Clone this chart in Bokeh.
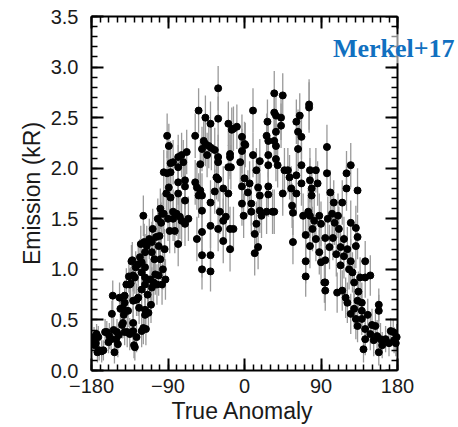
from bokeh.plotting import figure
from bokeh.models import (FixedTicker, LinearAxis, PrintfTickFormatter, ColumnDataSource,
                          Label, Range1d, Title)
from bokeh.embed import file_html
from bokeh.resources import INLINE
import numpy as np

# True anomaly (deg), emission (kR), 1-sigma error (kR)
anomaly = [
    -178, -177, -176, -175, -174, -173, -172, -171, -168, -166,
    -164, -162, -160, -159, -157, -156, -155, -154, -153, -151,
    -150, -149, -148, -147, -146, -144, -143, -143, -142, -141,
    -141, -141, -139, -138, -137, -136, -135, -135, -134, -133,
    -132, -131, -131, -131, -131, -130, -129, -129, -128, -127,
    -127, -125, -125, -124, -123, -122, -121, -121, -121, -121,
    -119, -119, -118, -117, -117, -117, -117, -117, -117, -116,
    -115, -114, -113, -112, -111, -110, -109, -109, -109, -108,
    -107, -106, -105, -104, -103, -102, -101, -101, -100, -99,
    -99, -98, -97, -97, -96, -95, -95, -94, -93, -92,
    -91, -91, -90, -89, -89, -88, -87, -87, -87, -84,
    -84, -84, -82, -80, -78, -78, -78, -78, -78, -76,
    -74, -74, -72, -70, -70, -70, -70, -68, -66, -58,
    -58, -56, -56, -54, -54, -52, -52, -50, -50, -50,
    -50, -50, -50, -48, -46, -46, -44, -42, -40, -40,
    -40, -40, -40, -39, -35, -35, -33, -31, -31, -31,
    -31, -31, -31, -29, -25, -25, -25, -22, -19, -19,
    -19, -17, -17, -17, -17, -16, -15, -13, -13, -9,
    -5, -3, -3, -3, -3, -1, 0, 0, 1, 4,
    6, 8, 8, 10, 10, 12, 12, 14, 14, 16,
    16, 18, 18, 18, 20, 26, 26, 27, 28, 28,
    28, 28, 28, 33, 35, 35, 35, 35, 37, 37,
    37, 37, 39, 43, 43, 45, 45, 47, 51, 53,
    55, 56, 57, 57, 61, 61, 61, 63, 63, 65,
    67, 67, 67, 69, 72, 72, 72, 75, 76, 76,
    77, 77, 77, 77, 79, 79, 80, 82, 84, 84,
    86, 88, 88, 90, 90, 94, 95, 95, 95, 95,
    97, 97, 98, 100, 101, 103, 104, 105, 106, 108,
    109, 110, 111, 113, 113, 115, 115, 117, 117, 119,
    120, 120, 121, 121, 123, 125, 125, 125, 125, 127,
    129, 129, 131, 131, 131, 133, 133, 133, 133, 134,
    136, 138, 138, 138, 140, 142, 142, 142, 142, 145,
    148, 148, 150, 152, 154, 156, 158, 158, 158, 160,
    162, 166, 170, 172, 175, 176, 178, 179,
]

emission = [
    0.30, 0.33, 0.25, 0.27, 0.36, 0.18, 0.33, 0.20, 0.19, 0.20,
    0.38, 0.38, 0.28, 0.34, 0.31, 0.56, 0.74, 0.40, 0.18, 0.31,
    0.38, 0.26, 0.35, 0.72, 0.61, 0.45, 0.62, 0.47, 0.55, 0.74,
    0.67, 0.38, 0.85, 0.38, 0.59, 0.93, 0.85, 0.36, 0.86, 1.08,
    1.09, 0.94, 0.69, 0.47, 0.39, 0.25, 0.92, 0.23, 1.02, 0.70,
    0.33, 1.05, 0.72, 0.62, 1.12, 1.25, 1.07, 0.97, 0.80, 0.39,
    1.53, 0.42, 1.27, 1.17, 1.02, 0.92, 0.85, 0.60, 0.55, 0.41,
    1.23, 0.75, 0.57, 1.30, 0.90, 0.65, 1.27, 1.17, 0.82, 1.40,
    0.87, 1.10, 0.95, 1.32, 0.85, 1.50, 1.23, 0.94, 1.33, 1.10,
    1.60, 1.46, 1.55, 0.85, 1.00, 1.96, 1.55, 1.20, 0.90, 1.75,
    2.32, 1.95, 1.50, 2.22, 1.81, 1.38, 2.05, 1.96, 1.71, 2.06,
    1.57, 1.50, 1.38, 1.55, 2.11, 2.01, 1.86, 1.75, 1.25, 1.52,
    2.13, 1.48, 2.06, 1.88, 1.82, 1.68, 1.45, 2.16, 1.50, 2.32,
    1.86, 1.81, 1.30, 2.57, 1.73, 2.04, 1.78, 2.19, 1.73, 1.58,
    1.37, 1.14, 1.00, 2.27, 2.50, 2.24, 2.13, 2.22, 2.44, 1.66,
    1.43, 1.14, 0.98, 2.20, 2.18, 1.77, 1.91, 2.79, 2.49, 2.11,
    2.06, 1.89, 1.40, 1.57, 1.80, 1.48, 1.28, 1.52, 2.44, 2.01,
    1.75, 2.14, 2.11, 1.40, 1.20, 2.01, 2.38, 2.39, 1.40, 2.41,
    2.06, 2.31, 2.17, 1.82, 1.65, 1.53, 2.24, 1.90, 2.23, 1.76,
    1.85, 1.65, 1.57, 2.57, 2.13, 1.35, 1.16, 1.98, 1.45, 1.81,
    1.22, 2.07, 1.73, 1.58, 1.53, 2.32, 1.57, 2.46, 2.27, 2.13,
    2.03, 1.82, 1.74, 1.57, 2.74, 2.55, 2.27, 1.57, 2.36, 2.22,
    2.09, 2.52, 2.03, 2.50, 2.42, 2.72, 1.75, 1.98, 1.98, 1.91,
    1.80, 1.63, 1.56, 1.27, 2.46, 1.93, 1.75, 2.36, 2.19, 2.52,
    2.31, 2.03, 1.85, 1.53, 1.34, 1.08, 0.93, 1.57, 2.63, 2.60,
    1.98, 1.88, 1.53, 1.23, 1.80, 1.73, 1.40, 1.48, 1.98, 1.30,
    1.85, 1.53, 1.17, 1.07, 1.45, 0.87, 1.31, 1.09, 0.87, 0.79,
    2.21, 1.95, 1.50, 1.22, 1.76, 1.55, 1.31, 1.66, 1.46, 1.15,
    0.77, 1.53, 1.40, 1.22, 1.04, 1.66, 0.79, 1.13, 1.30, 0.72,
    1.95, 1.80, 1.20, 0.67, 1.00, 2.03, 1.46, 1.08, 0.56, 0.97,
    0.87, 0.61, 1.41, 1.23, 0.51, 1.78, 1.32, 0.69, 0.44, 0.78,
    0.92, 0.67, 0.59, 0.51, 0.21, 1.08, 0.92, 0.41, 0.31, 0.55,
    0.94, 0.36, 0.45, 0.30, 0.44, 0.34, 0.65, 0.59, 0.18, 0.31,
    0.25, 0.31, 0.27, 0.39, 0.38, 0.30, 0.27, 0.33,
]

error = [
    0.10, 0.10, 0.10, 0.11, 0.10, 0.10, 0.11, 0.10, 0.11, 0.10,
    0.13, 0.11, 0.11, 0.13, 0.11, 0.13, 0.15, 0.13, 0.11, 0.13,
    0.13, 0.13, 0.13, 0.15, 0.15, 0.13, 0.15, 0.15, 0.15, 0.15,
    0.16, 0.13, 0.16, 0.15, 0.16, 0.16, 0.16, 0.16, 0.16, 0.16,
    0.18, 0.16, 0.16, 0.16, 0.16, 0.13, 0.16, 0.13, 0.16, 0.16,
    0.15, 0.18, 0.18, 0.16, 0.18, 0.18, 0.18, 0.18, 0.18, 0.16,
    0.20, 0.16, 0.18, 0.18, 0.18, 0.18, 0.18, 0.18, 0.16, 0.16,
    0.20, 0.18, 0.18, 0.20, 0.20, 0.18, 0.20, 0.20, 0.20, 0.20,
    0.20, 0.20, 0.20, 0.20, 0.20, 0.20, 0.20, 0.20, 0.20, 0.20,
    0.20, 0.20, 0.20, 0.20, 0.20, 0.22, 0.20, 0.20, 0.20, 0.22,
    0.22, 0.22, 0.22, 0.22, 0.22, 0.22, 0.22, 0.22, 0.22, 0.22,
    0.22, 0.22, 0.22, 0.22, 0.22, 0.22, 0.22, 0.22, 0.22, 0.22,
    0.22, 0.22, 0.22, 0.22, 0.22, 0.22, 0.22, 0.22, 0.22, 0.22,
    0.22, 0.22, 0.22, 0.22, 0.22, 0.22, 0.22, 0.22, 0.22, 0.22,
    0.22, 0.22, 0.20, 0.22, 0.22, 0.22, 0.22, 0.22, 0.22, 0.22,
    0.22, 0.22, 0.20, 0.22, 0.22, 0.22, 0.22, 0.22, 0.22, 0.22,
    0.22, 0.22, 0.22, 0.22, 0.22, 0.22, 0.22, 0.22, 0.22, 0.22,
    0.22, 0.22, 0.22, 0.22, 0.22, 0.22, 0.22, 0.22, 0.22, 0.22,
    0.22, 0.22, 0.22, 0.22, 0.22, 0.22, 0.22, 0.22, 0.22, 0.22,
    0.22, 0.22, 0.22, 0.22, 0.22, 0.22, 0.22, 0.22, 0.22, 0.22,
    0.22, 0.22, 0.22, 0.22, 0.22, 0.22, 0.22, 0.22, 0.22, 0.22,
    0.22, 0.22, 0.22, 0.22, 0.22, 0.22, 0.22, 0.22, 0.22, 0.22,
    0.22, 0.22, 0.22, 0.22, 0.22, 0.22, 0.22, 0.22, 0.22, 0.22,
    0.22, 0.22, 0.22, 0.22, 0.22, 0.22, 0.22, 0.22, 0.22, 0.22,
    0.22, 0.22, 0.22, 0.22, 0.22, 0.22, 0.20, 0.22, 0.25, 0.25,
    0.22, 0.22, 0.22, 0.22, 0.22, 0.22, 0.22, 0.22, 0.22, 0.22,
    0.22, 0.22, 0.22, 0.22, 0.22, 0.20, 0.22, 0.22, 0.20, 0.20,
    0.22, 0.22, 0.22, 0.22, 0.22, 0.22, 0.22, 0.22, 0.22, 0.22,
    0.20, 0.22, 0.22, 0.22, 0.22, 0.22, 0.20, 0.22, 0.22, 0.20,
    0.22, 0.22, 0.22, 0.20, 0.20, 0.22, 0.22, 0.22, 0.20, 0.20,
    0.20, 0.20, 0.22, 0.22, 0.20, 0.22, 0.22, 0.20, 0.16, 0.20,
    0.20, 0.20, 0.20, 0.16, 0.13, 0.20, 0.20, 0.16, 0.16, 0.16,
    0.20, 0.16, 0.16, 0.16, 0.16, 0.16, 0.16, 0.16, 0.13, 0.16,
    0.13, 0.13, 0.13, 0.13, 0.13, 0.13, 0.13, 0.13,
]

x_major = [-180, -90, 0, 90, 180]
x_labels = {-180: "\u2212180", -90: "\u221290", 0: "0", 90: "90", 180: "180"}
y_major = [0.0, 0.5, 1.0, 1.5, 2.0, 2.5, 3.0, 3.5]

x_minor = list(range(-180, 181, 10))
y_minor = [round(i * 0.1, 1) for i in range(36)]

x = np.array(anomaly, dtype=float)
y = np.array(emission, dtype=float)
e = np.array(error, dtype=float)
src = ColumnDataSource(dict(x=x, y=y, lo=y - e, hi=y + e))

# frame: data box spans 306 px for 360 deg; frame continues to the right edge
# of the canvas so the annotation can overlap the right axis without clipping
LEFT, DATA_W, EXTRA_W, TOP, FRAME_H, BOTTOM = 91, 306, 61, 16, 354, 57
x_end = 180 + EXTRA_W * 360.0 / DATA_W

p = figure(width=LEFT + DATA_W + EXTRA_W, height=TOP + FRAME_H + BOTTOM,
           frame_width=DATA_W + EXTRA_W, frame_height=FRAME_H,
           x_range=Range1d(-180, x_end), y_range=Range1d(0, 3.5),
           output_backend="svg", toolbar_location=None,
           min_border_left=LEFT, min_border_right=0,
           min_border_top=TOP, min_border_bottom=BOTTOM)
p.background_fill_color = "white"
p.border_fill_color = "white"
p.outline_line_color = None
p.xgrid.visible = False
p.ygrid.visible = False

p.segment("x", "lo", "x", "hi", source=src, line_color="#9a9a9a", line_width=1.3)
p.scatter("x", "y", source=src, size=7, fill_color="black", line_color="black")

FONT = "Liberation Sans"
TXT = "#1a1a1a"


def style(ax, major, minor):
    ax.ticker = FixedTicker(ticks=major, minor_ticks=minor)
    ax.axis_line_color = "black"
    ax.axis_line_width = 2
    ax.major_tick_in = 12
    ax.major_tick_out = 0
    ax.minor_tick_in = 6
    ax.minor_tick_out = 0
    ax.major_tick_line_color = "black"
    ax.minor_tick_line_color = "black"
    ax.major_tick_line_width = 2
    ax.minor_tick_line_width = 1.5
    ax.major_label_text_font = FONT
    ax.major_label_text_font_size = "20px"
    ax.major_label_text_color = TXT
    ax.axis_label_text_font = FONT
    ax.axis_label_text_font_size = "23px"
    ax.axis_label_text_font_style = "normal"
    ax.axis_label_text_color = TXT


xb = p.xaxis[0]
style(xb, x_major, x_minor)
xb.bounds = (-180, 180)
xb.major_label_overrides = x_labels
xb.major_label_standoff = 8

# x-axis title, centred under the -180..180 data box
xtitle = Title(text="True Anomaly", align="left", offset=80, standoff=0,
               text_font=FONT, text_font_size="23px", text_font_style="normal",
               text_color=TXT)
p.add_layout(xtitle, "below")

yl = p.yaxis[0]
style(yl, y_major, y_minor)
yl.formatter = PrintfTickFormatter(format="%.1f")
yl.major_label_standoff = 13
yl.axis_label = "Emission (kR)"
yl.axis_label_standoff = 3

xt = LinearAxis()
style(xt, x_major, x_minor)
xt.bounds = (-180, 180)
xt.major_label_text_font_size = "0px"
xt.major_label_text_color = None
xt.major_label_standoff = 0
p.add_layout(xt, "above")

yr = LinearAxis(fixed_location=180)
style(yr, y_major, y_minor)
yr.major_label_text_font_size = "0px"
yr.major_label_text_color = None
yr.major_label_standoff = 0
p.add_layout(yr, "right")

tag = Label(x=104, y=3.18, text="Merkel+17", text_font="Liberation Serif",
            text_font_style="bold", text_font_size="26px", text_color="#1170c0",
            text_baseline="alphabetic", background_fill_color="white",
            background_fill_alpha=0.55)
p.add_layout(tag)

open("out.html", "w").write(file_html(p, INLINE))
